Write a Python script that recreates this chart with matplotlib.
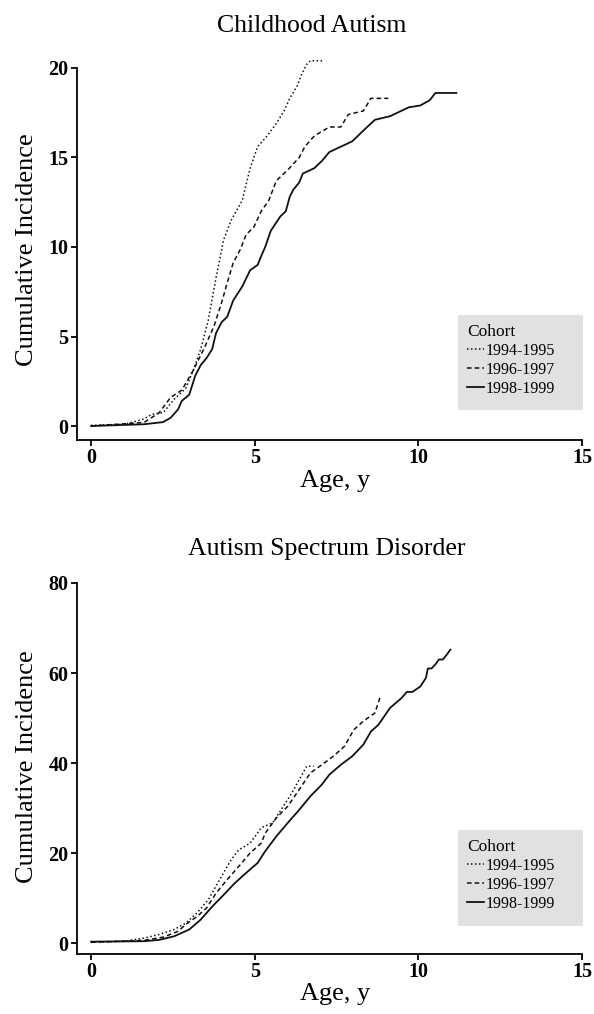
import numpy as np
import matplotlib
matplotlib.use("Agg")
import matplotlib.pyplot as plt
from matplotlib.patches import Rectangle

plt.rcParams['font.family'] = ['Liberation Serif', 'DejaVu Serif']

# Childhood autism (top panel)
ca_age_9495 = [0, 1.04, 1.62, 1.85, 2.2, 2.54, 2.89, 3.12, 3.35, 3.58, 3.82, 4.05, 4.28, 4.62,
               4.86, 5.09, 5.38, 5.66, 5.9, 6.07, 6.3, 6.42, 6.59, 6.7, 7.1]
ca_inc_9495 = [0.04, 0.1, 0.4, 0.65, 0.74, 1.5, 2.1, 3.1, 4.3, 5.9, 8.3, 10.4, 11.5, 12.6,
               14.4, 15.6, 16.2, 16.9, 17.6, 18.3, 19.0, 19.6, 20.2, 20.4, 20.4]
ca_age_9697 = [0, 1.62, 2.08, 2.43, 2.77, 3.12, 3.47, 3.76, 3.99, 4.16, 4.34, 4.57, 4.74, 4.97,
               5.2, 5.43, 5.66, 6.01, 6.36, 6.53, 6.82, 7.28, 7.63, 7.86, 8.32, 8.55, 9.08]
ca_inc_9697 = [0, 0.2, 0.74, 1.6, 2.0, 3.1, 4.4, 5.6, 6.9, 8.0, 9.1, 9.9, 10.7, 11.1,
               12.0, 12.6, 13.7, 14.3, 15.0, 15.6, 16.2, 16.7, 16.7, 17.4, 17.6, 18.3, 18.3]
ca_age_9899 = [0, 1.62, 2.2, 2.43, 2.66, 2.77, 3.0, 3.18, 3.35, 3.53, 3.7, 3.82, 3.99, 4.16,
               4.34, 4.62, 4.86, 5.09, 5.2, 5.32, 5.49, 5.78, 5.95, 6.07, 6.18, 6.36, 6.47,
               6.82, 7.05, 7.28, 7.63, 7.98, 8.32, 8.67, 9.13, 9.71, 10.06, 10.35, 10.52, 11.16]
ca_inc_9899 = [0, 0.1, 0.22, 0.46, 0.93, 1.4, 1.75, 2.8, 3.4, 3.8, 4.3, 5.2, 5.8, 6.1,
               7.0, 7.8, 8.7, 9.0, 9.5, 10.0, 10.9, 11.7, 12.0, 12.8, 13.2, 13.6, 14.1,
               14.4, 14.8, 15.3, 15.6, 15.9, 16.5, 17.1, 17.3, 17.8, 17.9, 18.2, 18.6, 18.6]

# Autism spectrum disorder (bottom panel)
asd_age_9495 = [0, 1.04, 1.62, 2.08, 2.54, 2.89, 3.24, 3.58, 3.93, 4.28, 4.51, 4.86, 5.2,
                5.55, 5.84, 6.13, 6.36, 6.59, 6.8]
asd_inc_9495 = [0.2, 0.4, 1.1, 1.9, 3.0, 4.4, 6.7, 9.6, 14.1, 18.5, 20.7, 22.2, 25.6,
                26.7, 30.0, 33.3, 36.3, 39.3, 39.3]
asd_age_9697 = [0, 1.62, 2.2, 2.66, 2.89, 3.24, 3.53, 3.82, 4.16, 4.51, 4.86, 5.2, 5.32,
                5.66, 6.01, 6.36, 6.7, 7.05, 7.4, 7.74, 8.03, 8.32, 8.67, 8.84]
asd_inc_9697 = [0.15, 0.6, 1.3, 2.6, 4.1, 5.9, 7.8, 11.1, 14.1, 17.0, 20.0, 22.2, 24.4,
                27.8, 30.4, 34.1, 37.8, 39.6, 41.5, 43.7, 47.4, 49.3, 51.1, 54.8]
asd_age_9899 = [0, 1.62, 2.08, 2.54, 3.0, 3.35, 3.7, 4.05, 4.39, 4.74, 5.09, 5.32, 5.66,
                6.01, 6.36, 6.7, 7.05, 7.28, 7.63, 7.98, 8.32, 8.55, 8.78, 9.13, 9.48, 9.65,
                9.82, 10.06, 10.23, 10.29, 10.4, 10.52, 10.63, 10.75, 10.87, 10.98]
asd_inc_9899 = [0.3, 0.4, 0.7, 1.5, 3.0, 5.2, 8.1, 10.7, 13.3, 15.6, 17.8, 20.4, 23.7,
                26.7, 29.6, 32.6, 35.2, 37.4, 39.6, 41.5, 44.1, 47.0, 48.5, 52.2, 54.4, 55.8,
                55.8, 57.0, 58.9, 61.0, 61.0, 61.9, 63.0, 63.0, 64.1, 65.2]

cohorts = ['1994-1995', '1996-1997', '1998-1999']
styles = [(0, (1, 1.6)), (0, (3, 2)), '-']
widths = [1.1, 1.1, 1.3]

W, H = 594, 1014
fig = plt.figure(figsize=(W / 100, H / 100), dpi=100)


def fx(px):
    return px / W


def fy(py):
    return 1 - py / H


def panel(rect, xlim, ylim, ytop, yticks, series, title, title_xy, ylab_y, xlab_y, box):
    ax = fig.add_axes(rect)
    for (x, y), ls, lw, lab in zip(series, styles, widths, cohorts):
        ax.plot(x, y, color='#111111', linestyle=ls, linewidth=lw, label=lab)
    ax.set_xlim(*xlim)
    ax.set_ylim(*ylim)
    ax.set_xticks([0, 5, 10, 15])
    ax.set_yticks(yticks)
    for s in ['top', 'right']:
        ax.spines[s].set_visible(False)
    ax.spines['left'].set_bounds(ylim[0], ytop)
    ax.spines['bottom'].set_bounds(xlim[0], 15)
    for s in ['left', 'bottom']:
        ax.spines[s].set_linewidth(1.3)
    ax.tick_params(direction='out', length=4, width=1.3, labelsize=14.5, pad=2)
    for t in ax.get_xticklabels() + ax.get_yticklabels():
        t.set_fontweight('bold')
    fig.text(fx(title_xy[0]), fy(title_xy[1]), title, fontsize=18.5,
             ha='center', va='baseline')
    fig.text(fx(27), fy(ylab_y), 'Cumulative Incidence', fontsize=19,
             rotation=90, ha='center', va='center')
    fig.text(fx(335), fy(xlab_y), 'Age, y', fontsize=19, ha='center', va='baseline')
    x0, y0, x1, y1 = box
    ax.add_patch(Rectangle((fx(x0), fy(y1)), fx(x1 - x0), (y1 - y0) / H,
                           transform=fig.transFigure, facecolor='#e1e1e1',
                           edgecolor='none', clip_on=False, zorder=0.5))
    leg = ax.legend(loc='upper left', bbox_to_anchor=(fx(x0 + 9), fy(y0 + 9)),
                    bbox_transform=fig.transFigure, frameon=False, title='Cohort',
                    alignment='left', fontsize=11.5, title_fontsize=12.5,
                    handlelength=1.05, handletextpad=0.12, labelspacing=0.18,
                    borderpad=0, borderaxespad=0)
    leg.set_zorder(5)
    return ax


# top panel: x 0 -> px 91, 15 -> px 582 ; y 0 -> px 426, 20 -> px 68
panel([fx(77), fy(440), fx(582 - 77), (440 - 50) / H], (-0.43, 15), (-0.78, 21), 20,
      [0, 5, 10, 15, 20],
      [(ca_age_9495, ca_inc_9495), (ca_age_9697, ca_inc_9697), (ca_age_9899, ca_inc_9899)],
      'Childhood Autism', (312, 32), 250, 487, (458, 315, 583, 410))

# bottom panel: y 0 -> px 943, 80 -> px 583
panel([fx(77), fy(954), fx(582 - 77), (954 - 583) / H], (-0.43, 15), (-2.44, 80), 80,
      [0, 20, 40, 60, 80],
      [(asd_age_9495, asd_inc_9495), (asd_age_9697, asd_inc_9697), (asd_age_9899, asd_inc_9899)],
      'Autism Spectrum Disorder', (327, 555), 767, 1000, (458, 830, 583, 926))

fig.savefig('out.png', dpi=100)
